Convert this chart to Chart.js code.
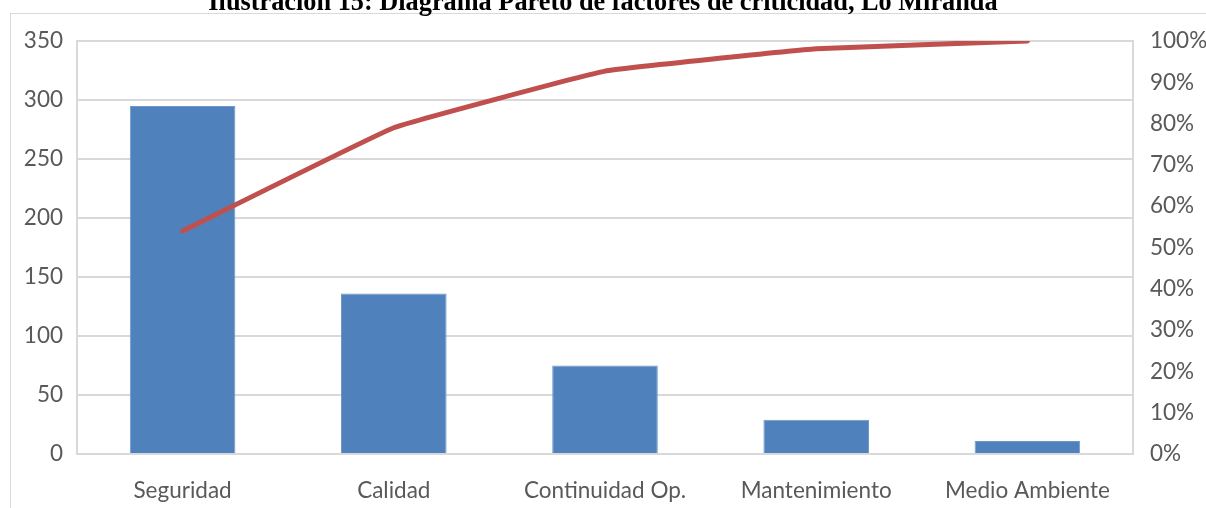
<!DOCTYPE html>
<html>
<head>
<meta charset="utf-8">
<script src="https://cdn.jsdelivr.net/npm/chart.js@4"></script>
<style>
  html, body { margin: 0; padding: 0; background: #fff; overflow: hidden; }
  #wrap { position: relative; width: 1206px; height: 508px; }
  #frame { position: absolute; left: 10px; top: 13px; width: 1210px; height: 510px; border: 1px solid #d9d9d9; box-sizing: border-box; }
  #title { position: absolute; left: 0; width: 1206px; top: -13px; text-align: center;
           font: bold 26.3px "Liberation Serif", "Times New Roman", serif; color: #000; white-space: nowrap; }
  #c { position: absolute; left: 0; top: 0; }
</style>
</head>
<body>
<div id="wrap">
  <div id="frame"></div>
  <canvas id="c" width="1206" height="508"></canvas>
  <div id="title">Ilustración 15: Diagrama Pareto de factores de criticidad, Lo Miranda</div>
</div>
<script>
const categories = ['Seguridad', 'Calidad', 'Continuidad Op.', 'Mantenimiento', 'Medio Ambiente'];
const criticidad = [295, 136, 75, 29, 11];
const acumulado = [54, 79, 92.7, 98.1, 100];
const leftTicks = [0, 50, 100, 150, 200, 250, 300, 350];
const rightTicks = [0, 10, 20, 30, 40, 50, 60, 70, 80, 90, 100];

const tickFont = { family: 'Lato, "Open Sans", sans-serif', size: 22.5 };
const tickColor = '#595959';
const gridColor = '#d9d9d9';

const ctx = document.getElementById('c').getContext('2d');
new Chart(ctx, {
    data: {
        labels: categories,
        datasets: [
            {
                type: 'line',
                data: acumulado,
                yAxisID: 'y1',
                borderColor: '#c0504d',
                borderWidth: 5,
                pointRadius: 0,
                tension: 0.08,
                borderCapStyle: 'round',
                order: 0
            },
            {
                type: 'bar',
                data: criticidad,
                yAxisID: 'y',
                backgroundColor: '#4f81bd',
                borderColor: '#6f98c9',
                borderWidth: 1,
                barPercentage: 0.5,
                categoryPercentage: 1,
                order: 1
            }
        ]
    },
    options: {
        responsive: false,
        animation: false,
        layout: { padding: { top: 41, left: 0, right: 0, bottom: 0 } },
        plugins: { legend: { display: false }, tooltip: { enabled: false } },
        scales: {
            x: {
                grid: { display: false },
                border: { display: true, color: gridColor, width: 2 },
                ticks: { color: tickColor, font: tickFont, padding: 15, maxRotation: 0 },
                afterFit: function (s) { s.height = 54; }
            },
            y: {
                position: 'left',
                min: 0, max: 350,
                afterBuildTicks: function (s) { s.ticks = leftTicks.map(v => ({ value: v })); },
                grid: { color: gridColor, lineWidth: 2, drawTicks: false },
                border: { display: true, color: gridColor, width: 2 },
                ticks: { color: tickColor, font: tickFont, padding: 14 },
                afterFit: function (s) { s.width = 77; }
            },
            y1: {
                position: 'right',
                min: 0, max: 100,
                afterBuildTicks: function (s) { s.ticks = rightTicks.map(v => ({ value: v })); },
                grid: { display: false, drawTicks: false },
                border: { display: true, color: gridColor, width: 2 },
                ticks: { color: tickColor, font: tickFont, padding: 17, callback: v => v + '%' },
                afterFit: function (s) { s.width = 73; }
            }
        }
    }
});
</script>
</body>
</html>
